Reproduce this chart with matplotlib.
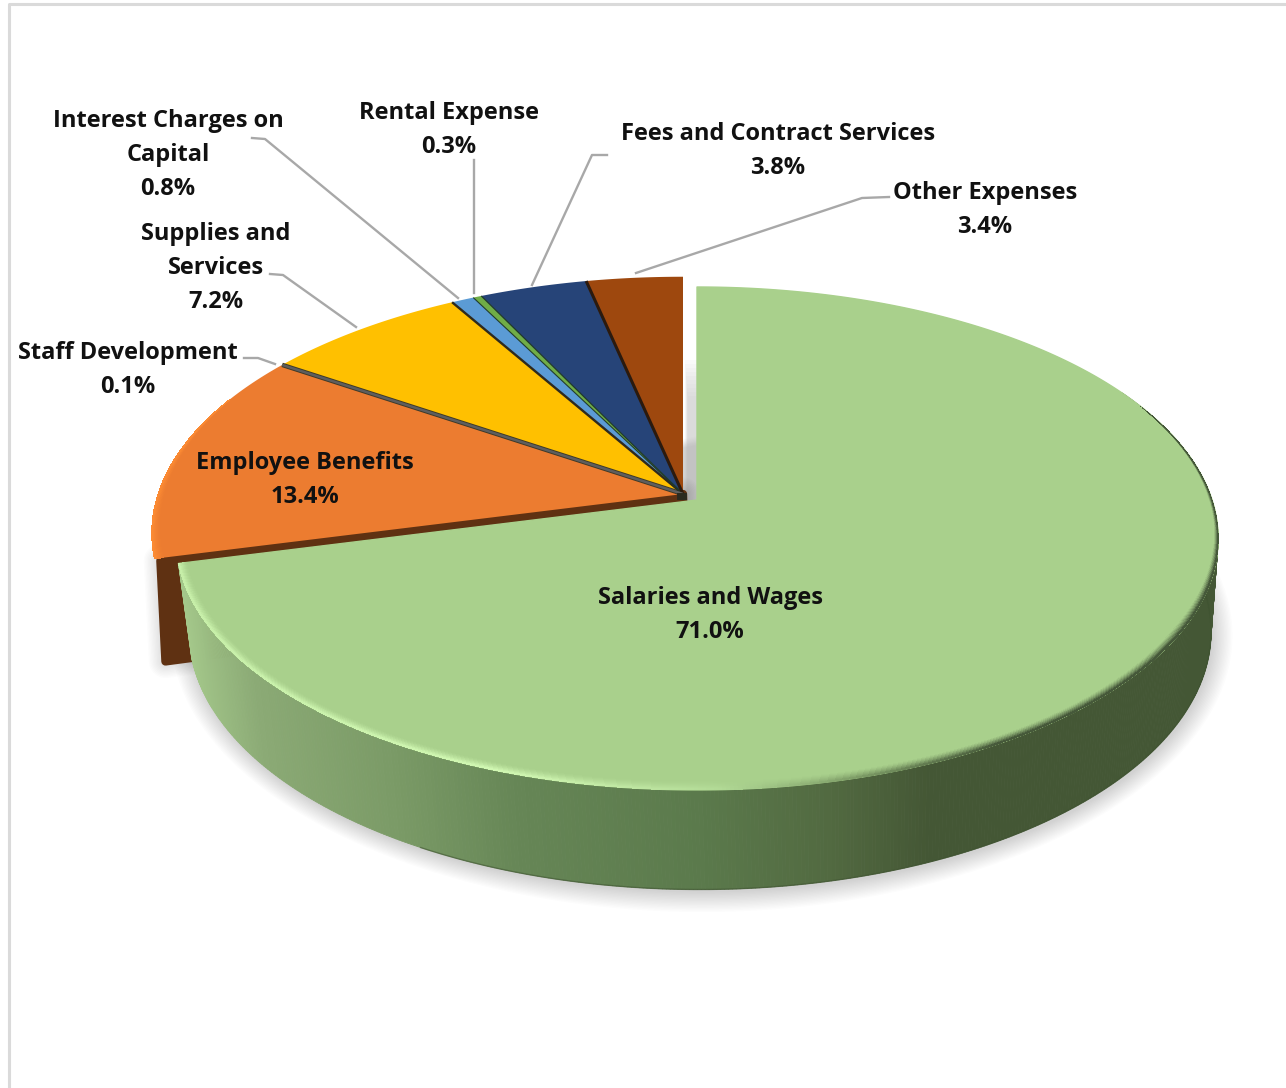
import numpy as np
import matplotlib
matplotlib.use("Agg")
import matplotlib.pyplot as plt
from matplotlib.collections import PolyCollection
from matplotlib.colors import to_rgb
from matplotlib.patches import Polygon

# Expense shares, percent of total, clockwise from 12 o'clock
categories = ["Salaries and Wages", "Employee Benefits", "Staff Development",
              "Supplies and\nServices", "Interest Charges on\nCapital",
              "Rental Expense", "Fees and Contract Services", "Other Expenses"]
shares = [71.0, 13.4, 0.1, 7.2, 0.8, 0.3, 3.8, 3.4]
slice_colors = ["#A9D08C", "#EC7C30", "#5E5E5E", "#FFC000",
                "#5B9BD5", "#70AD47", "#264478", "#9E480E"]
label_centers = [(710, 615), (305, 480), (128, 370), (216, 268),
                 (168, 155), (449, 130), (778, 151), (985, 210)]
leaders = {
    2: [(244, 358), (258, 358), (275, 364)],
    3: [(270, 274), (283, 275), (356, 327)],
    4: [(252, 138), (265, 139), (458, 298)],
    5: [(474, 160), (474, 293)],
    6: [(607, 155), (592, 155), (532, 285)],
    7: [(889, 197), (862, 198), (636, 273)],
}

W, H = 1286, 1088
fig = plt.figure(figsize=(W / 100, H / 100), dpi=100, facecolor="white")
ax = fig.add_axes([0, 0, 1, 1])
ax.set_xlim(0, W)
ax.set_ylim(H, 0)
ax.axis("off")

# Frame of the chart area: top and left sides only
ax.plot([9, 9, W], [H, 4, 4], color="#DADADA", lw=2.2, zorder=0)

fractions = np.array(shares) / np.sum(shares)
edges = np.concatenate([[0.0], np.cumsum(fractions)]) * 2 * np.pi


def project(theta, apex, rx, a, radius=1.0, k=0.153):
    """Perspective view of a point on a tilted disc."""
    theta = np.asarray(theta, dtype=float)
    u = radius * np.sin(theta)
    v = -radius * np.cos(theta)
    d = 1 - k * v
    return np.column_stack([apex[0] + rx * u / d, apex[1] + a * v / d])


def ramp(x, stops):
    xs = [s[0] for s in stops]
    rgb = np.array([to_rgb(s[1]) for s in stops])
    return np.column_stack([np.interp(x, xs, rgb[:, i]) for i in range(3)])


# Top and bottom discs of the large slice, and the pulled-out group
TOP = dict(apex=(697, 500), rx=515, a=245.6)
BOT = dict(apex=(700, 592), rx=505, a=252)
GRP = dict(apex=(683, 494), rx=525, a=250.5)
GRP_BOT = dict(apex=(686, 592), rx=515, a=257)

wall_stops = [(180, "#A6CA8C"), (260, "#8BAA75"), (400, "#7A9A66"), (520, "#668656"),
              (700, "#5B7A4C"), (830, "#526A41"), (930, "#445735"), (1230, "#445735")]
rim_stops = [(180, "#C6EEA8"), (500, "#D0F7B2"), (720, "#B2DA96"),
             (860, "#7D9C66"), (1000, "#46593A"), (1230, "#46593A")]


def band(ax_, outer, apex, stops, face, width, zorder, layers=8):
    """Soft bevel along an arc, fading from the face colour to the rim colour."""
    vec = np.array(apex) - outer
    unit = vec / np.linalg.norm(vec, axis=1, keepdims=True)
    width = np.broadcast_to(width, (len(outer),))[:, None]
    polys, cols = [], []
    rim = ramp(outer[:, 0], stops)
    base = np.array(to_rgb(face))
    for j in range(layers):
        t0 = width * (1 - j / layers)
        t1 = width * (1 - (j + 1) / layers)
        mix = ((j + 1) / layers) ** 1.4
        p0 = outer + unit * t0
        p1 = outer + unit * t1
        for i in range(len(outer) - 1):
            polys.append([p0[i], p0[i + 1], p1[i + 1], p1[i]])
            cols.append(base * (1 - mix) + rim[i] * mix)
    ax_.add_collection(PolyCollection(polys, facecolors=cols, edgecolors="none",
                                      antialiaseds=False, zorder=zorder))


# Soft ground shadow below the disc
arc_all = np.linspace(np.radians(30), np.radians(285), 300)
ground = project(arc_all, **BOT)
for i in range(15):
    grow = 1.4 * i
    vec = ground - np.array(BOT["apex"])
    unit = vec / np.linalg.norm(vec, axis=1, keepdims=True)
    ax.add_patch(Polygon(ground + unit * grow + np.array([2, 3]), closed=True,
                         facecolor="black", alpha=0.012, edgecolor="none", zorder=1))

# Narrow shadow in the gap between the pulled-out group and the large slice
for i in range(10):
    ax.fill_between([685 + i * 0.3, 698], 360 + i * 4, 502, color="#B8B8B8",
                    alpha=0.06, lw=0, zorder=1)

# Cut face of the pulled-out group, seen above the large slice
corner_top = project([edges[1]], **GRP)[0] + np.array([6, 2])
corner_bot = project([edges[1]], **GRP_BOT)[0] + np.array([-2, 3])
cut = [GRP["apex"], corner_top, corner_bot, GRP_BOT["apex"]]
for i in range(10):
    ax.add_patch(Polygon(cut, closed=True, facecolor="none", edgecolor="black",
                         lw=6.0 + i * 2.0, alpha=0.012, joinstyle="round", zorder=2))
ax.add_patch(Polygon(cut, closed=True, facecolor="#5F3112", edgecolor="#5F3112",
                     lw=6, joinstyle="round", zorder=3))

# Faces of the pulled-out group
for i in range(1, len(shares)):
    th = np.linspace(edges[i], edges[i + 1], max(4, int(shares[i] * 6)))
    pts = np.vstack([[GRP["apex"]], project(th, **GRP)])
    ax.add_patch(Polygon(pts, closed=True, facecolor=slice_colors[i],
                         edgecolor="none", zorder=4))

# Lighter bevel on the outer edge of the largest group slice
th_b = np.linspace(edges[1], edges[1] + np.radians(38), 80)
band(ax, project(th_b, **GRP), GRP["apex"], [(0, "#FB8A33"), (2000, "#FB8A33")],
     slice_colors[1], np.linspace(9, 0.5, 80), 4.2)


def seam(theta, lw, color, zorder=5):
    end = project([theta], **GRP)[0]
    ax.plot([GRP["apex"][0], end[0]], [GRP["apex"][1], end[1]],
            color=color, lw=lw, solid_capstyle="butt", zorder=zorder)


# Dark seams between the pulled-out slices; the thin grey slice gets a wider stroke
seam(0.5 * (edges[2] + edges[3]), 3.2, "#3F3A28")
seam(0.5 * (edges[2] + edges[3]), 1.8, slice_colors[2], zorder=5.1)
seam(edges[4], 1.7, "#2E2A1E")
seam(edges[5], 0.8, "#1F3A2A")
seam(edges[6], 0.9, "#1F3A2A")
seam(edges[7], 2.2, "#2B1A0E")
ax.plot([680, 683], [496, 496], color="#2A2A20", lw=5, zorder=5.2)

# Side wall of the large slice, shaded from left to right
th_w = np.linspace(np.radians(62), edges[1], 520)
top_arc = project(th_w, **TOP)
bot_arc = project(th_w, **BOT)
wall_polys = [[top_arc[i], top_arc[i + 1], bot_arc[i + 1], bot_arc[i]]
              for i in range(len(th_w) - 1)]
wall_cols = ramp(0.5 * (top_arc[:-1, 0] + bot_arc[:-1, 0]), wall_stops)
ax.add_collection(PolyCollection(wall_polys, facecolors=wall_cols, edgecolors=wall_cols,
                                 linewidths=0.6, zorder=6))
floor = (bot_arc[:, 0] > 420)
ax.plot(bot_arc[floor, 0], bot_arc[floor, 1], color="#3E5230", lw=1.0, alpha=0.55, zorder=6.5)

# Face of the large slice with its soft rim
th_f = np.linspace(edges[0], edges[1], 500)
face = np.vstack([[TOP["apex"]], project(th_f, **TOP)])
ax.add_patch(Polygon(face, closed=True, facecolor=slice_colors[0],
                     edgecolor=slice_colors[0], lw=1.0, joinstyle="round", zorder=7))
th_r = np.linspace(np.radians(66), edges[1], 500)
rim_width = np.interp(th_r, np.radians([66, 95, 120]), [0.0, 3.0, 8.0])
band(ax, project(th_r, **TOP), TOP["apex"], rim_stops, slice_colors[0], rim_width, 7.2)

# Leader lines
for pts in leaders.values():
    xs, ys = zip(*pts)
    ax.plot(xs, ys, color="#A8A8A8", lw=1.7, solid_joinstyle="round", zorder=8)

# Data labels
for name, share, (cx, cy) in zip(categories, shares, label_centers):
    ax.text(cx, cy, f"{name}\n{share:.1f}%", ha="center", va="center", ma="center",
            family="Open Sans", weight="bold", fontsize=17, color="#111111",
            linespacing=1.57, zorder=9)

fig.savefig("out.png", dpi=100, facecolor="white")
